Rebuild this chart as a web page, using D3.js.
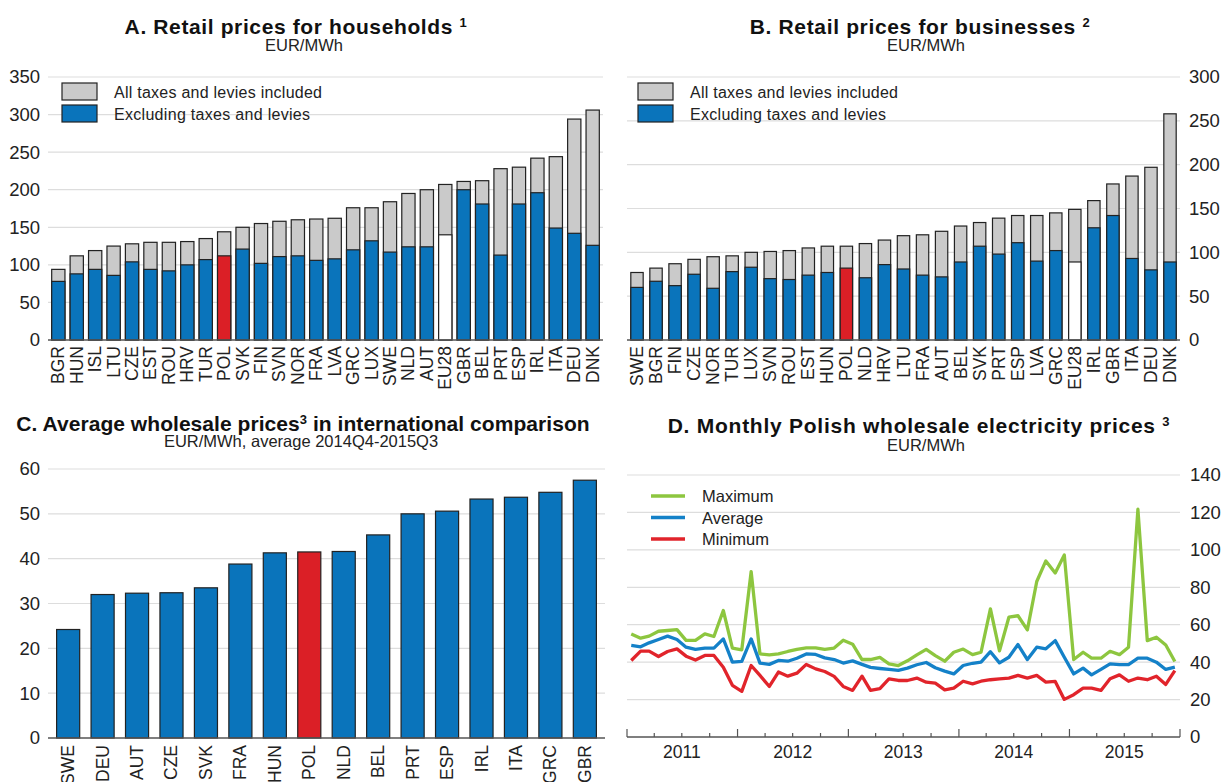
<!DOCTYPE html>
<html><head><meta charset="utf-8">
<script src="https://cdn.jsdelivr.net/npm/d3@7/dist/d3.min.js"></script>
<style>
body{margin:0;background:#fff;}
svg{font-family:"Liberation Sans",Arial,sans-serif;}
</style></head>
<body>
<svg id="c" width="1223" height="782"></svg>
<script>
// ---- Data ----
const catsA = ["BGR","HUN","ISL","LTU","CZE","EST","ROU","HRV","TUR","POL","SVK","FIN","SVN","NOR","FRA","LVA","GRC","LUX","SWE","NLD","AUT","EU28","GBR","BEL","PRT","ESP","IRL","ITA","DEU","DNK"];
const totalA = [94,112,119,125,128,130,130,131,135,144,150,155,158,160,161,162,176,176,184,195,200,207,211,212,228,230,242,244,294,306];
const exTaxA = [78,88,94,86,104,94,92,100,107,112,121,102,111,112,106,108,120,132,117,124,124,140,200,181,113,181,196,149,142,126];
const ticksA = [0,50,100,150,200,250,300,350];

const catsB = ["SWE","BGR","FIN","CZE","NOR","TUR","LUX","SVN","ROU","EST","HUN","POL","NLD","HRV","LTU","FRA","AUT","BEL","SVK","PRT","ESP","LVA","GRC","EU28","IRL","GBR","ITA","DEU","DNK"];
const totalB = [77,82,87,92,95,96,100,101,102,105,107,107,110,114,119,120,124,130,134,139,142,142,145,149,159,178,187,197,258];
const exTaxB = [60,67,62,75,59,78,83,70,69,74,77,82,71,86,81,74,72,89,107,98,111,90,102,89,128,142,93,80,89];
const ticksB = [0,50,100,150,200,250,300];

const catsC = ["SWE","DEU","AUT","CZE","SVK","FRA","HUN","POL","NLD","BEL","PRT","ESP","IRL","ITA","GRC","GBR"];
const valuesC = [24.2,32.0,32.3,32.4,33.5,38.8,41.3,41.5,41.6,45.3,50.0,50.6,53.3,53.7,54.8,57.5];
const ticksC = [0,10,20,30,40,50,60];

// Monthly, Jan 2011 - Dec 2015
const maxD = [55.1,52.8,53.9,56.5,56.9,57.4,51.6,51.6,55.1,53.7,67.6,47.5,
              46.6,88.4,44.4,43.9,44.4,45.7,46.8,47.6,47.6,46.8,47.5,51.7,
              49.6,41.4,41.4,42.5,39.1,38.2,40.7,43.9,46.8,43.5,40.5,45.3,
              47.0,44.0,45.3,68.5,46.0,64.0,64.8,57.2,83.1,94.1,87.6,97.2,
              41.4,45.3,42.1,42.1,45.8,44.0,48.0,121.7,51.5,53.3,49.2,40.3];
const avgD = [48.9,48.2,50.3,52.1,53.9,52.1,48.0,46.8,47.5,47.5,52.4,40.0,
              40.4,52.4,39.5,38.8,40.9,40.5,42.1,44.4,44.1,42.3,41.4,39.5,
              40.7,38.8,37.2,36.6,36.1,35.6,36.8,38.6,39.8,37.0,35.2,33.7,
              38.2,39.4,40.0,45.6,39.6,42.6,49.4,41.4,48.0,47.1,51.5,42.6,
              33.7,36.8,33.2,36.1,39.1,38.7,38.7,42.1,42.1,40.0,36.1,37.3];
const minD = [40.9,45.9,45.9,43.0,45.7,47.1,43.2,41.1,43.6,43.6,37.3,27.6,
              24.4,38.2,32.9,27.0,34.7,32.5,34.1,38.8,36.4,35.0,32.4,27.0,
              24.9,32.5,24.9,25.8,31.1,30.2,30.2,31.5,29.3,28.8,25.2,26.1,
              29.8,28.4,29.8,30.6,31.1,31.5,32.9,31.5,32.9,29.3,29.7,20.1,
              22.6,26.1,26.1,24.9,31.1,33.2,29.8,31.5,30.6,32.5,28.1,35.5];
const ticksD = [0,20,40,60,80,100,120,140];
const yearsD = [2011,2012,2013,2014,2015];
const seriesD = [
  {name:"Maximum", values:maxD, color:"#8dc63f"},
  {name:"Average", values:avgD, color:"#1481c8"},
  {name:"Minimum", values:minD, color:"#e1242b"}
];

// ---- Styles ----
const BLUE = "#0a74bb", RED = "#db1f26", GREY = "#cacaca", GRID = "#dddddd", AXIS = "#555";
const svg = d3.select("#c");

function fitWidth(sel, target){
  const node = sel.node();
  const w = node.getComputedTextLength();
  const n = node.textContent.length;
  if (n > 1) sel.attr("letter-spacing", ((target - w) / (n - 1)).toFixed(2));
}

function title(x, y, parts, width, sub, subX, subY){
  const t = svg.append("text").attr("x", x).attr("y", y).attr("text-anchor","middle")
    .attr("font-size", 21).attr("font-weight","bold").attr("fill","#111");
  parts.forEach(p=>{
    const s = t.append("tspan").text(p.t);
    if (p.sup) s.attr("font-size", 13).attr("baseline-shift", "7");
  });
  fitWidth(t, width);
  svg.append("text").attr("x", subX).attr("y", subY).attr("text-anchor","middle")
    .attr("font-size", 16.5).attr("fill","#222").text(sub);
}

function yAxisLabels(g, y, ticks, side, xpos){
  const ax = side === "left" ? d3.axisLeft(y) : d3.axisRight(y);
  const axg = g.append("g").attr("transform", `translate(${xpos},0)`)
    .call(ax.tickValues(ticks).tickSize(0).tickPadding(0));
  axg.select(".domain").remove();
  axg.selectAll("text").attr("font-size", 18.5).attr("fill","#222")
    .attr("font-family","Liberation Sans, Arial, sans-serif");
}

function stackedPanel(cats, total, ex, ticks, ymax, x0, x1, side, legendX, pad){
  const x = d3.scaleBand().domain(cats).range([x0, x1]).paddingInner(pad).paddingOuter(0.2);
  const y = d3.scaleLinear().domain([0, ymax]).range([340, 77]);
  const g = svg.append("g");
  g.selectAll(".grid").data(ticks.filter(t=>t>0)).join("line")
    .attr("x1", x0).attr("x2", x1).attr("y1", d=>y(d)).attr("y2", d=>y(d))
    .attr("stroke", GRID).attr("stroke-width", 1.2);
  yAxisLabels(g, y, ticks, side, side==="left" ? x0-8 : x1+9);
  g.selectAll(".tot").data(cats).join("rect")
    .attr("x", d=>x(d)).attr("width", x.bandwidth())
    .attr("y", (d,i)=>y(total[i])).attr("height", (d,i)=>y(0)-y(total[i]))
    .attr("fill", GREY).attr("stroke","#222").attr("stroke-width",1.2);
  g.selectAll(".ex").data(cats).join("rect")
    .attr("x", d=>x(d)).attr("width", x.bandwidth())
    .attr("y", (d,i)=>y(ex[i])).attr("height", (d,i)=>y(0)-y(ex[i]))
    .attr("fill", d=> d==="POL" ? RED : d==="EU28" ? "#fff" : BLUE)
    .attr("stroke","#222").attr("stroke-width",1.2);
  g.append("line").attr("x1", x0).attr("x2", x1).attr("y1", y(0)).attr("y2", y(0))
    .attr("stroke", AXIS).attr("stroke-width", 1.5);
  g.selectAll(".xl").data(cats).join("text")
    .attr("transform", d=>`translate(${x(d)+x.bandwidth()/2+6},346) rotate(-90)`)
    .attr("text-anchor","end").attr("font-size", 17.5).attr("fill","#222").text(d=>d);
  const leg = [{t:"All taxes and levies included", c:GREY, w:208},{t:"Excluding taxes and levies", c:BLUE, w:196}];
  leg.forEach((l,i)=>{
    g.append("rect").attr("x", legendX).attr("y", 83+i*22).attr("width", 35).attr("height", 17)
      .attr("fill", l.c).attr("stroke","#222").attr("stroke-width",1.2);
    const t = g.append("text").attr("x", legendX+52).attr("y", 98+i*22).attr("font-size", 16).attr("fill","#222").text(l.t);
    fitWidth(t, l.w);
  });
}

// Panel A
title(296, 34, [{t:"A. Retail prices for households "},{t:"1", sup:true}], 342, "EUR/MWh", 304, 51);
stackedPanel(catsA, totalA, exTaxA, ticksA, 350, 48, 603, "left", 62, 0.28);
// Panel B
title(920, 34, [{t:"B. Retail prices for businesses "},{t:"2", sup:true}], 340, "EUR/MWh", 926, 51);
stackedPanel(catsB, totalB, exTaxB, ticksB, 300, 627, 1180, "right", 638, 0.35);

// Panel C
(function(){
  title(303, 431, [{t:"C. Average wholesale prices"},{t:"3", sup:true},{t:" in international comparison"}], 573,
        "EUR/MWh, average 2014Q4-2015Q3", 301, 447);
  const x0 = 48, x1 = 605;
  const x = d3.scaleBand().domain(catsC).range([x0, x1]).paddingInner(0.33).paddingOuter(0.25);
  const y = d3.scaleLinear().domain([0, 60]).range([738, 469]);
  const g = svg.append("g");
  g.selectAll("line.grid").data(ticksC.filter(t=>t>0)).join("line")
    .attr("x1", x0).attr("x2", x1).attr("y1", d=>y(d)).attr("y2", d=>y(d))
    .attr("stroke", GRID).attr("stroke-width", 1.2);
  yAxisLabels(g, y, ticksC, "left", x0-8);
  g.selectAll("rect").data(catsC).join("rect")
    .attr("x", d=>x(d)).attr("width", x.bandwidth())
    .attr("y", (d,i)=>y(valuesC[i])).attr("height", (d,i)=>y(0)-y(valuesC[i]))
    .attr("fill", d=> d==="POL" ? RED : BLUE).attr("stroke","#222").attr("stroke-width",1.2);
  g.append("line").attr("x1", x0).attr("x2", x1).attr("y1", y(0)).attr("y2", y(0))
    .attr("stroke", AXIS).attr("stroke-width", 1.5);
  g.selectAll("text.xl").data(catsC).join("text")
    .attr("transform", d=>`translate(${x(d)+x.bandwidth()/2+6},745) rotate(-90)`)
    .attr("text-anchor","end").attr("font-size", 17.5).attr("fill","#222").text(d=>d);
})();

// Panel D
(function(){
  title(919, 433, [{t:"D. Monthly Polish wholesale electricity prices "},{t:"3", sup:true}], 502, "EUR/MWh", 926, 451);
  const x0 = 627, x1 = 1180;
  const x = d3.scaleTime().domain([new Date(2011,0,1), new Date(2016,0,1)]).range([x0, x1]);
  const y = d3.scaleLinear().domain([0, 140]).range([737, 475]);
  const g = svg.append("g");
  g.selectAll("line.grid").data(ticksD.filter(t=>t>0)).join("line")
    .attr("x1", x0).attr("x2", x1).attr("y1", d=>y(d)).attr("y2", d=>y(d))
    .attr("stroke", GRID).attr("stroke-width", 1.2);
  yAxisLabels(g, y, ticksD, "right", x1+10);
  g.append("line").attr("x1", x0).attr("x2", x1).attr("y1", y(0)).attr("y2", y(0))
    .attr("stroke", AXIS).attr("stroke-width", 1.5);
  const quarters = d3.timeMonth.every(3).range(new Date(2011,0,1), new Date(2016,0,2));
  g.selectAll("line.tk").data(quarters).join("line")
    .attr("x1", d=>x(d)).attr("x2", d=>x(d))
    .attr("y1", y(0)).attr("y2", d=> y(0) - (d.getMonth()===0 ? 8 : 4))
    .attr("stroke", AXIS).attr("stroke-width", 1.2);
  g.selectAll("text.yr").data(yearsD).join("text")
    .attr("x", d=>x(new Date(d,6,1))).attr("y", 758).attr("text-anchor","middle")
    .attr("font-size", 17.5).attr("fill","#222").text(d=>d);
  const line = d3.line().x((d,i)=>x(new Date(2011, i, 15))).y(d=>y(d));
  seriesD.forEach(s=>{
    g.append("path").datum(s.values).attr("d", line).attr("fill","none")
      .attr("stroke", s.color).attr("stroke-width", 3.3).attr("stroke-linejoin","round");
  });
  seriesD.forEach((s,i)=>{
    g.append("line").attr("x1", 651).attr("x2", 685).attr("y1", 496+i*21.5).attr("y2", 496+i*21.5)
      .attr("stroke", s.color).attr("stroke-width", 3.5);
    g.append("text").attr("x", 702).attr("y", 502+i*21.5).attr("font-size", 16.5).attr("fill","#222").text(s.name);
  });
})();
</script>
</body></html>
